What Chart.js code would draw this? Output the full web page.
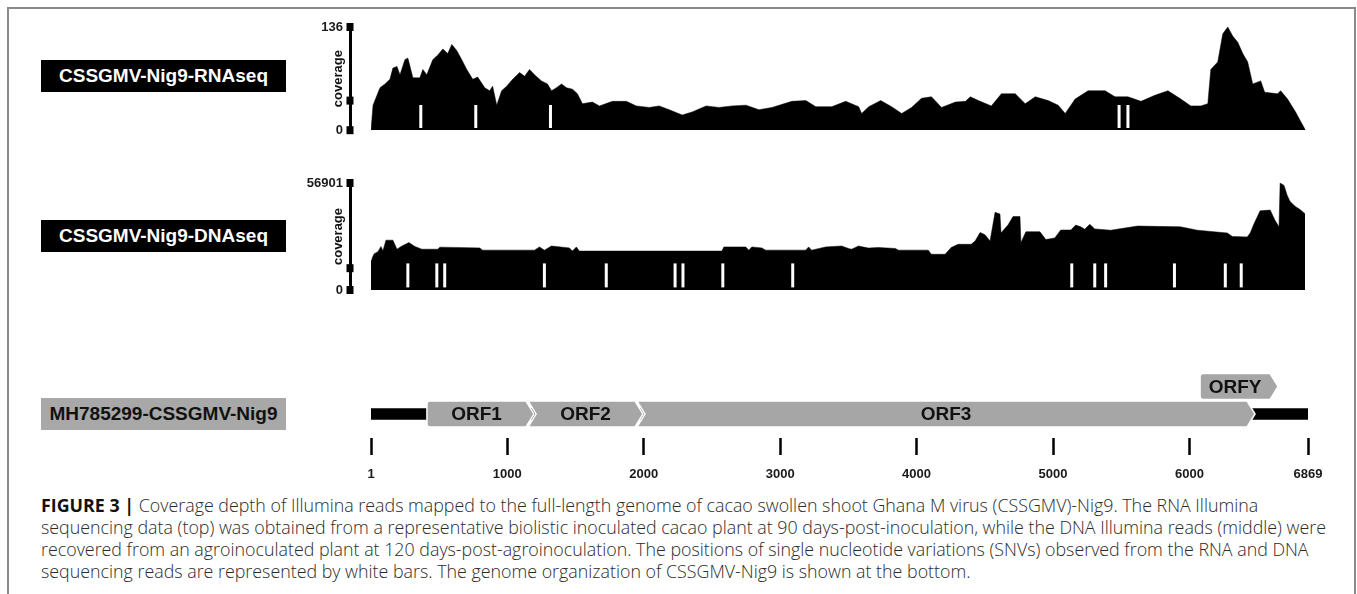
<!DOCTYPE html>
<html><head><meta charset="utf-8">
<script src="https://cdn.jsdelivr.net/npm/chart.js@4.4.1/dist/chart.umd.min.js"></script>
<style>
html,body{margin:0;padding:0;background:#fff;}
#fig{position:relative;width:1357px;height:594px;overflow:hidden;font-family:"Liberation Sans",Arial,sans-serif;}
#frame{position:absolute;left:7px;top:7px;width:1349px;height:620px;border:2px solid #8a8a8a;border-bottom:none;box-sizing:border-box;}
.lab{position:absolute;left:41px;width:245px;height:32px;line-height:32px;text-align:center;font-weight:bold;font-size:19px;}
.dark{background:#000;color:#fff;}
.gray{background:#a8a8a8;color:#111;}
canvas{position:absolute;}
#cap{position:absolute;left:41px;top:494px;font-family:"Open Sans",Roboto,"Liberation Sans",sans-serif;font-weight:300;font-size:16px;line-height:22px;color:#2b2b2b;white-space:nowrap;}
#cap div{height:22px;}
#cap span{display:inline;}
#cap b{font-weight:700;color:#111;}
</style></head>
<body><div id="fig">
<div id="frame"></div>
<div class="lab dark" style="top:60px">CSSGMV-Nig9-RNAseq</div>
<div class="lab dark" style="top:220px">CSSGMV-Nig9-DNAseq</div>
<div class="lab gray" style="top:398px">MH785299-CSSGMV-Nig9</div>
<canvas id="cRna" width="1040" height="140" style="left:280px;top:5px"></canvas>
<canvas id="cDna" width="1040" height="140" style="left:280px;top:165px"></canvas>
<canvas id="cMap" width="1060" height="135" style="left:280px;top:355px"></canvas>
<div id="cap"><div><span><b>FIGURE 3 |</b> Coverage depth of Illumina reads mapped to the full-length genome of cacao swollen shoot Ghana M virus (CSSGMV)-Nig9. The RNA Illumina</span></div><div><span>sequencing data (top) was obtained from a representative biolistic inoculated cacao plant at 90 days-post-inoculation, while the DNA Illumina reads (middle) were</span></div><div><span>recovered from an agroinoculated plant at 120 days-post-agroinoculation. The positions of single nucleotide variations (SNVs) observed from the RNA and DNA</span></div><div><span>sequencing reads are represented by white bars. The genome organization of CSSGMV-Nig9 is shown at the bottom.</span></div></div>
</div>
<script>
// ---------- data ----------
const genomeLength = 6869;
const genomeTicks = [1, 1000, 2000, 3000, 4000, 5000, 6000, 6869];

const rnaPos = [1,16,67,104,140,162,192,214,250,272,309,360,382,411,455,492,529,565,595,631,668,705,749,785,837,873,895,925,961,998,1042,1093,1130,1166,1203,1254,1298,1328,1364,1401,1438,1482,1518,1555,1628,1680,1775,1878,1951,2046,2119,2193,2288,2361,2464,2559,2654,2757,2852,2948,3094,3197,3270,3387,3490,3585,3607,3659,3747,3827,3901,3974,4047,4120,4194,4296,4370,4406,4465,4560,4634,4736,4809,4883,4978,5051,5103,5176,5271,5396,5469,5564,5660,5762,5858,5953,6026,6100,6151,6173,6224,6261,6298,6334,6371,6408,6444,6481,6540,6569,6664,6686,6737,6796,6832,6869];
const rnaCov = [0,33,56,61,67,82,84,73,93,95,69,69,80,73,93,99,107,101,113,105,93,80,67,70,56,52,58,33,52,58,67,76,71,80,73,65,61,52,56,61,56,54,48,35,37,32,38,38,32,30,32,27,20,24,32,30,32,33,27,30,38,39,31,31,38,31,22,31,39,31,22,30,42,44,30,37,38,44,39,32,48,48,35,44,39,33,22,41,52,52,44,44,38,46,52,41,32,32,35,80,90,127,136,124,116,101,90,61,65,50,48,52,41,24,12,0];
const rnaMax = 136;
const rnaMarks = [0, 39, 136];
const rnaSnv = [367, 771, 1320, 5499, 5564];

const dnaPos = [1,8,23,52,74,89,111,162,192,228,280,324,375,492,507,800,822,1203,1240,1276,1328,1460,1482,1511,1533,2581,2596,2757,2779,2801,2874,2904,3197,3219,3241,3344,3461,3512,3534,3571,3585,3659,3732,3857,3879,4099,4121,4223,4267,4318,4414,4443,4480,4516,4553,4590,4626,4634,4663,4685,4722,4773,4780,4817,4920,4963,5029,5073,5147,5183,5220,5249,5286,5323,5440,5638,5953,6078,6298,6334,6444,6466,6495,6539,6613,6649,6678,6686,6715,6737,6759,6796,6832,6869];
const dnaCov = [15800,16650,19200,20400,23100,20900,26500,26500,21700,23400,25200,23100,21700,21700,22800,22400,21200,21200,22900,21200,23400,22400,20700,22900,20700,20700,22900,22900,21200,22900,22400,21200,21200,22900,21200,22900,23400,22100,21700,22900,23400,22300,22600,22100,21200,21200,19000,19000,22600,24300,24300,26000,30600,29400,26000,41300,40400,30300,32800,34500,39100,39100,25200,31000,31000,26800,27700,31900,31900,34500,33600,32300,34900,32500,31800,34000,33600,31800,30300,28500,28200,30300,35400,42100,42500,37000,33600,56901,55600,50500,47100,44500,42800,40600];
const dnaMax = 56901;
const dnaMarks = [0, 11600, 56901];
const dnaSnv = [272, 485, 543, 1276, 1731, 2237, 2295, 2588, 3102, 5154, 5323, 5403, 5909, 6283, 6400];

const orfNames = ['ORF1', 'ORF2', 'ORF3', 'ORFY'];
const orfStart = [411, 1211, 2009, 6078];
const orfEnd   = [1196, 1995, 6481, 6650];
const orfRow   = [0, 0, 0, 1];

// ---------- caption fit ----------
(function () {
  const cap = document.getElementById('cap');
  const spans = cap.querySelectorAll('span');
  const target = [1248, 1265, 1251, 939];
  let sw = 0, st = 0;
  spans.forEach((s, i) => { sw += s.getBoundingClientRect().width; st += target[i]; });
  if (sw > 0) cap.style.fontSize = (16 * st / sw).toFixed(2) + 'px';
})();

// ---------- common ----------
const FONT = "'Liberation Sans', Arial, sans-serif";
Chart.defaults.font.family = FONT;
Chart.defaults.animation = false;
Chart.defaults.responsive = false;
Chart.defaults.devicePixelRatio = 1;
Chart.defaults.events = [];
Chart.defaults.plugins.legend.display = false;
Chart.defaults.plugins.tooltip.enabled = false;

const axisDeco = {
  id: 'axisDeco',
  afterDraw(chart) {
    const s = chart.scales.y, ctx = chart.ctx;
    const bx = s.right;
    ctx.save();
    ctx.fillStyle = '#000';
    s.ticks.forEach(t => {
      const y = s.getPixelForValue(t.value);
      ctx.fillRect(bx - 3.5, y - 4, 7, 8);
    });
    ctx.font = 'bold 13px ' + FONT;
    ctx.fillStyle = '#111';
    ctx.textAlign = 'center';
    ctx.textBaseline = 'middle';
    ctx.translate(bx - 12, (s.top + s.bottom) / 2);
    ctx.rotate(-Math.PI / 2);
    ctx.fillText('coverage', 0, 0);
    ctx.restore();
  }
};

function coverageChart(id, pos, cov, maxV, marks, snv, snvMid, snvHalf, padTop, padBottom) {
  return new Chart(document.getElementById(id), {
    type: 'scatter',
    data: {
      datasets: [
        {
          data: snv.map(p => ({ x: p, y: snvMid })),
          showLine: false,
          pointStyle: 'line',
          rotation: 90,
          radius: snvHalf,
          borderColor: '#fff',
          borderWidth: 3,
          backgroundColor: '#fff'
        },
        {
          data: pos.map((p, i) => ({ x: p, y: cov[i] })),
          showLine: true,
          fill: 'origin',
          backgroundColor: '#000',
          borderColor: '#000',
          borderWidth: 0.5,
          pointRadius: 0,
          tension: 0
        }
      ]
    },
    options: {
      layout: { padding: { left: 0, right: 12, top: padTop, bottom: padBottom } },
      scales: {
        x: { type: 'linear', min: 1, max: genomeLength, display: false },
        y: {
          type: 'linear', position: 'left', min: 0, max: maxV, weight: 1,
          afterFit: s => { s.width = 70; },
          afterBuildTicks: s => { s.ticks = marks.map(v => ({ value: v })); },
          ticks: {
            callback: v => (v === 0 || v === maxV) ? String(v) : '',
            font: { size: 13, weight: 'bold' }, color: '#1a1a1a', padding: 7
          },
          grid: { display: false, drawTicks: false },
          border: { display: true, width: 3, color: '#000' }
        },
        gap: {
          type: 'linear', position: 'left', weight: 0, display: true,
          afterFit: s => { s.width = 21; },
          ticks: { display: false }, grid: { display: false, drawTicks: false }, border: { display: false }
        }
      }
    },
    plugins: [axisDeco]
  });
}

coverageChart('cRna', rnaPos, rnaCov, rnaMax, rnaMarks, rnaSnv, 18, 11.5, 22, 12.5);
coverageChart('cDna', dnaPos, dnaCov, dnaMax, dnaMarks, dnaSnv, 7760, 12, 18, 12);

// ---------- genome map ----------
// ORF arrows are placed through the chart's own x / y scales
const orfDraw = {
  id: 'orfDraw',
  afterDatasetsDraw(chart) {
    const ctx = chart.ctx, xs = chart.scales.x, ys = chart.scales.y;
    const tip = 8, r = 3, h = 26;
    ctx.save();
    orfNames.forEach((name, i) => {
      const L = xs.getPixelForValue(orfStart[i]);
      const R = xs.getPixelForValue(orfEnd[i]);
      const cy = ys.getPixelForValue(orfRow[i]);
      const T = cy - h / 2, B = cy + h / 2;
      const notch = orfEnd.some((e, j) => j !== i && orfRow[j] === orfRow[i] && Math.abs(orfStart[i] - e) < 60);
      ctx.beginPath();
      if (notch) {
        ctx.moveTo(L - tip, T);
        ctx.lineTo(R - tip, T);
        ctx.lineTo(R, cy);
        ctx.lineTo(R - tip, B);
        ctx.lineTo(L - tip, B);
        ctx.lineTo(L, cy);
        ctx.closePath();
      } else {
        ctx.moveTo(L + r, T);
        ctx.lineTo(R - tip, T);
        ctx.lineTo(R, cy);
        ctx.lineTo(R - tip, B);
        ctx.lineTo(L + r, B);
        ctx.quadraticCurveTo(L, B, L, B - r);
        ctx.lineTo(L, T + r);
        ctx.quadraticCurveTo(L, T, L + r, T);
        ctx.closePath();
      }
      ctx.fillStyle = '#a6a6a6';
      ctx.fill();
      ctx.lineWidth = 1.5;
      ctx.strokeStyle = '#fff';
      ctx.stroke();
      ctx.fillStyle = '#111';
      ctx.font = 'bold 19px ' + FONT;
      ctx.textAlign = 'center';
      ctx.textBaseline = 'middle';
      ctx.fillText(name, (L + R - tip) / 2, cy + 1);
    });
    ctx.restore();
  }
};

new Chart(document.getElementById('cMap'), {
  type: 'bar',
  data: {
    datasets: [
      {
        data: [{ x: [1, genomeLength], y: 0 }],
        backgroundColor: '#000', borderWidth: 0, barThickness: 11
      }
    ]
  },
  options: {
    indexAxis: 'y',
    layout: { padding: { left: 91, right: 32, top: 15, bottom: 2 } },
    scales: {
      x: {
        type: 'linear', min: 1, max: genomeLength,
        afterBuildTicks: s => { s.ticks = genomeTicks.map(v => ({ value: v })); },
        afterFit: s => { s.height = 50; },
        ticks: { font: { size: 13, weight: 'bold' }, color: '#1a1a1a', padding: 12, maxRotation: 0, autoSkip: false,
                 callback: v => String(v) },
        grid: { display: true, drawOnChartArea: false, drawTicks: true, tickLength: 17, tickWidth: 2.5, tickColor: '#000' },
        border: { display: false }
      },
      y: { type: 'linear', min: -0.873, max: 1.6, offset: false, display: false }
    }
  },
  plugins: [orfDraw]
});
</script>
</body></html>
